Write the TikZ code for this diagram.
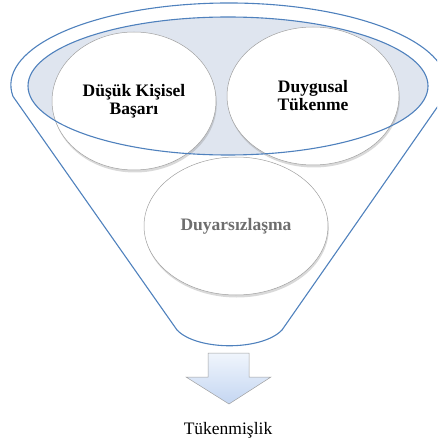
\documentclass[tikz,border=0pt]{standalone}
\usepackage{fontspec}
\setmainfont{Liberation Serif}
\usetikzlibrary{shapes.geometric,shadows}
\definecolor{rimblue}{RGB}{79,129,189}
\definecolor{rimfill}{RGB}{223,229,239}
\definecolor{ringgray}{RGB}{160,160,160}
\definecolor{textgray}{RGB}{110,110,110}
\definecolor{arrowtop}{RGB}{240,245,252}
\definecolor{arrowbot}{RGB}{196,214,242}
\begin{document}
\begin{tikzpicture}[x=1pt,y=1pt,
  rim/.style={draw=rimblue,line width=1.1pt},
  facet/.style={ellipse,draw=ringgray,fill=white,line width=0.5pt,
    drop shadow={shadow xshift=0.8pt,shadow yshift=-2.5pt,opacity=0.3},
    align=center,inner sep=0pt,font=\fontsize{17.5}{18}\selectfont\bfseries}]
\path[use as bounding box,clip](0,0) rectangle (437,-443);
\fill[rimfill](228,-86) ellipse[x radius=200,y radius=69];
\node[facet,minimum width=164,minimum height=138](basari) at (134,-101){Düşük Kişisel\\Başarı};
\node[facet,minimum width=172,minimum height=138](duygusal) at (313,-96){Duygusal\\Tükenme};
\node[facet,minimum width=184,minimum height=138,text=textgray](duyar) at (236,-226){Duyarsızlaşma};
\draw[rim](228,-86) ellipse[x radius=200,y radius=69];
\draw[rim](13,-96.4) arc[start angle=188,end angle=-8,x radius=218,y radius=82]
  --(282,-330) .. controls (262,-351) and (197,-351) .. (177,-330)--cycle;
\shade[top color=arrowtop,bottom color=arrowbot,draw=ringgray,line width=0.5pt]
  (208,-353)--(249,-353)--(249,-377)--(271,-377)--(229,-404)--(186,-377)--(208,-377)--cycle;
\node[font=\fontsize{17.5}{19}\selectfont](tuken) at (228,-430){Tükenmişlik};
\end{tikzpicture}
\end{document}
